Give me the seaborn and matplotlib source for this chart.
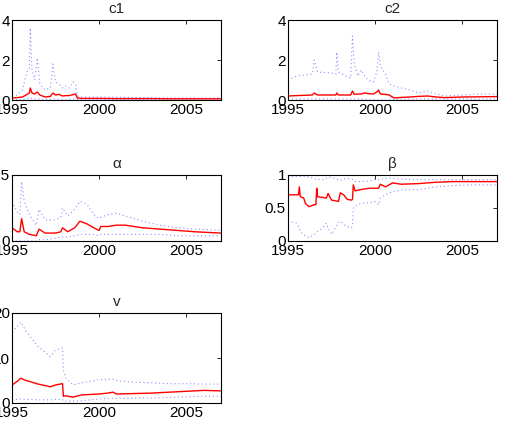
import numpy as np
import pandas as pd
import matplotlib
matplotlib.use("Agg")
import matplotlib.pyplot as plt
import seaborn as sns

sns.set_theme(style="white")
plt.rcParams['font.family'] = ['Liberation Sans', 'DejaVu Sans']

# ---------------- data ----------------
# c1
c1_t = [1995.0, 1995.3, 1995.6, 1995.8, 1995.9, 1996.0, 1996.05, 1996.15, 1996.3, 1996.45, 1996.6,
        1996.9, 1997.2, 1997.35, 1997.5, 1997.7, 1997.9, 1998.1, 1998.3, 1998.5, 1998.65, 1998.75,
        1999.0, 2000.0, 2001.0, 2002.0, 2003.0, 2004.0, 2005.0, 2006.0, 2007.0]
c1_up = [0.2, 0.25, 0.5, 1.2, 1.5, 1.6, 3.6, 1.5, 1.0, 2.1, 0.8,
         0.5, 0.6, 1.8, 0.9, 0.8, 0.6, 0.7, 0.6, 0.9, 0.8, 0.2,
         0.15, 0.15, 0.14, 0.12, 0.12, 0.1, 0.1, 0.1, 0.1]
c1_lo = [0.02, 0.02, 0.03, 0.05, 0.06, 0.08, 0.12, 0.06, 0.05, 0.08, 0.04,
         0.03, 0.03, 0.06, 0.04, 0.04, 0.03, 0.03, 0.03, 0.04, 0.04, 0.02,
         0.02, 0.02, 0.02, 0.02, 0.02, 0.02, 0.02, 0.02, 0.02]
c1_est = [0.1, 0.12, 0.15, 0.25, 0.3, 0.35, 0.6, 0.35, 0.3, 0.4, 0.25,
          0.15, 0.18, 0.35, 0.25, 0.28, 0.2, 0.22, 0.22, 0.27, 0.3, 0.1,
          0.08, 0.08, 0.07, 0.07, 0.07, 0.06, 0.06, 0.06, 0.06]

# c2
c2_t = [1995.0, 1995.5, 1996.4, 1996.5, 1996.7, 1997.5, 1997.75, 1997.8, 1997.9, 1998.3, 1998.6,
        1998.7, 1998.8, 1999.0, 1999.2, 1999.4, 1999.6, 1999.9, 2000.1, 2000.2, 2000.3, 2000.6,
        2000.8, 2001.1, 2001.5, 2002.0, 2002.5, 2003.0, 2003.5, 2004.0, 2005.0, 2006.0, 2007.0]
c2_up = [1.0, 1.2, 1.3, 2.0, 1.4, 1.35, 1.3, 2.4, 1.4, 1.2, 1.1,
         3.2, 1.8, 1.2, 1.5, 1.2, 1.0, 0.9, 1.4, 2.4, 1.7, 1.3,
         0.8, 0.7, 0.6, 0.5, 0.35, 0.45, 0.3, 0.2, 0.25, 0.3, 0.3]
c2_lo = [0.05, 0.05, 0.05, 0.06, 0.05, 0.05, 0.05, 0.06, 0.05, 0.05, 0.05,
         0.06, 0.05, 0.05, 0.05, 0.04, 0.03, 0.02, 0.01, 0.01, 0.0, 0.0,
         0.0, 0.02, 0.04, 0.05, 0.05, 0.05, 0.05, 0.05, 0.05, 0.05, 0.05]
c2_est = [0.2, 0.22, 0.25, 0.35, 0.25, 0.25, 0.25, 0.35, 0.25, 0.25, 0.25,
          0.45, 0.28, 0.3, 0.3, 0.35, 0.32, 0.3, 0.4, 0.5, 0.3, 0.28,
          0.25, 0.1, 0.13, 0.15, 0.18, 0.2, 0.15, 0.12, 0.15, 0.16, 0.17]

# alpha
a_t = [1995.0, 1995.3, 1995.45, 1995.55, 1995.7, 1996.0, 1996.4, 1996.55, 1996.9, 1997.5, 1997.8,
       1997.9, 1998.2, 1998.6, 1998.9, 1999.3, 1999.7, 2000.0, 2000.1, 2000.5, 2001.0, 2001.5,
       2002.5, 2003.5, 2004.5, 2005.5, 2007.0]
a_up = [0.3, 0.22, 0.2, 0.45, 0.3, 0.2, 0.12, 0.24, 0.16, 0.16, 0.18,
        0.25, 0.19, 0.24, 0.3, 0.28, 0.2, 0.17, 0.18, 0.2, 0.21, 0.19,
        0.15, 0.12, 0.1, 0.09, 0.08]
a_lo = [0.0, 0.0, 0.0, 0.0, 0.0, 0.0, 0.0, 0.01, 0.01, 0.02, 0.03,
        0.03, 0.03, 0.04, 0.05, 0.05, 0.05, 0.04, 0.05, 0.05, 0.05, 0.05,
        0.05, 0.05, 0.04, 0.04, 0.04]
a_est = [0.1, 0.07, 0.07, 0.17, 0.07, 0.05, 0.04, 0.09, 0.06, 0.06, 0.07,
         0.1, 0.07, 0.1, 0.15, 0.13, 0.1, 0.08, 0.11, 0.11, 0.12, 0.12,
         0.1, 0.09, 0.08, 0.07, 0.06]

# beta
b_t = [1995.0, 1995.5, 1995.6, 1995.65, 1995.7, 1995.8, 1995.9, 1996.0, 1996.2, 1996.5, 1996.6,
       1996.65, 1996.7, 1997.0, 1997.2, 1997.3, 1997.5, 1997.9, 1998.0, 1998.2, 1998.4, 1998.65,
       1998.7, 1998.75, 1998.85, 1999.2, 1999.7, 2000.0, 2000.2, 2000.3, 2000.6, 2001.0, 2001.5,
       2002.5, 2003.5, 2004.5, 2005.5, 2007.0]
b_up = [0.97, 0.98, 0.98, 0.98, 0.98, 0.98, 0.98, 0.98, 0.97, 0.95, 0.93,
        0.93, 0.93, 0.93, 0.95, 0.97, 0.96, 0.93, 0.92, 0.94, 0.95, 0.94,
        0.93, 0.92, 0.9, 0.9, 0.91, 0.93, 0.93, 0.94, 0.95, 0.95, 0.94,
        0.93, 0.93, 0.93, 0.93, 0.93]
b_lo = [0.3, 0.27, 0.22, 0.2, 0.15, 0.12, 0.1, 0.08, 0.05, 0.1, 0.12,
        0.13, 0.15, 0.2, 0.27, 0.2, 0.1, 0.28, 0.3, 0.25, 0.22, 0.2,
        0.25, 0.5, 0.53, 0.57, 0.58, 0.6, 0.55, 0.65, 0.7, 0.75, 0.77,
        0.78, 0.82, 0.84, 0.85, 0.85]
b_est = [0.7, 0.7, 0.7, 0.82, 0.68, 0.66, 0.65, 0.57, 0.52, 0.55, 0.55,
         0.8, 0.67, 0.66, 0.65, 0.72, 0.62, 0.6, 0.73, 0.7, 0.63, 0.62,
         0.63, 0.85, 0.76, 0.78, 0.8, 0.8, 0.8, 0.86, 0.82, 0.88, 0.86,
         0.87, 0.89, 0.9, 0.9, 0.9]

# nu
v_t = [1995.0, 1995.3, 1995.5, 1995.8, 1996.0, 1996.5, 1997.0, 1997.2, 1997.5, 1997.9, 1997.95,
       1998.1, 1998.5, 1999.0, 1999.5, 2000.0, 2000.5, 2000.8, 2001.0, 2002.0, 2003.0, 2004.0,
       2005.0, 2006.0, 2007.0]
v_up = [15.8, 17.0, 18.0, 16.0, 15.0, 12.5, 11.0, 10.3, 11.8, 12.2, 7.3,
        5.5, 4.0, 4.5, 4.8, 5.2, 5.3, 5.3, 5.0, 4.6, 4.5, 4.3, 4.3, 4.2, 4.2]
v_lo = [0.8, 0.8, 0.9, 0.8, 0.8, 0.7, 0.7, 0.7, 0.8, 0.8, 0.4,
        0.4, 0.4, 0.5, 0.7, 0.9, 1.0, 1.0, 1.0, 1.1, 1.1, 1.2, 1.4, 1.5, 1.5]
v_est = [4.0, 4.8, 5.5, 5.0, 4.8, 4.2, 3.8, 3.6, 4.0, 4.3, 1.5,
         1.6, 1.3, 1.8, 1.9, 2.0, 2.2, 2.4, 2.0, 2.1, 2.2, 2.4, 2.6, 2.8, 2.7]

panels = [
    ("c1", c1_t, c1_up, c1_lo, c1_est, (0, 4), [0, 2, 4], ["0", "2", "4"]),
    ("c2", c2_t, c2_up, c2_lo, c2_est, (0, 4), [0, 2, 4], ["0", "2", "4"]),
    ("\u03b1", a_t, a_up, a_lo, a_est, (0, 0.5), [0, 0.5], ["0", "0.5"]),
    ("\u03b2", b_t, b_up, b_lo, b_est, (0, 1), [0, 0.5, 1], ["0", "0.5", "1"]),
    ("v", v_t, v_up, v_lo, v_est, (0, 20), [0, 10, 20], ["0", "10", "20"]),
]

W, H = 520, 437
fig = plt.figure(figsize=(W / 100, H / 100), dpi=100)

# axes boxes in pixels: (left, top, right, bottom)
boxes = [(12, 20, 221, 100), (288, 20, 497, 100),
         (12, 175, 221, 241), (288, 175, 497, 241),
         (12, 313, 221, 403)]

for (title, t, up, lo, est, ylim, yt, ytl), (l, tp, r, b) in zip(panels, boxes):
    ax = fig.add_axes([l / W, 1 - b / H, (r - l) / W, (b - tp) / H])
    for band in (up, lo):
        sns.lineplot(x=t, y=band, ax=ax, color="#3333ff", linewidth=0.8, alpha=0.55,
                     estimator=None, sort=False, dashes=False)
        ax.lines[-1].set_dashes((1, 2.5))
    sns.lineplot(x=t, y=est, ax=ax, color="red", linewidth=1.0, estimator=None, sort=False)
    ax.set_xlim(1995, 2007)
    ax.set_ylim(*ylim)
    ax.set_xticks([1995, 2000, 2005])
    ax.set_xticklabels(["1995", "2000", "2005"])
    ax.set_yticks(yt)
    ax.set_yticklabels(ytl)
    ax.set_title(title, fontsize=11, pad=5)
    ax.tick_params(direction="in", length=3, width=0.6, top=True, right=True,
                   labelsize=11, pad=1.5, colors="black")
    ax.tick_params(axis="x", pad=2.5)
    for s in ax.spines.values():
        s.set_color("black")
        s.set_linewidth(0.8)
    ax.set_xlabel("")
    ax.set_ylabel("")
    ax.grid(False)

fig.savefig("out.png", dpi=100)
